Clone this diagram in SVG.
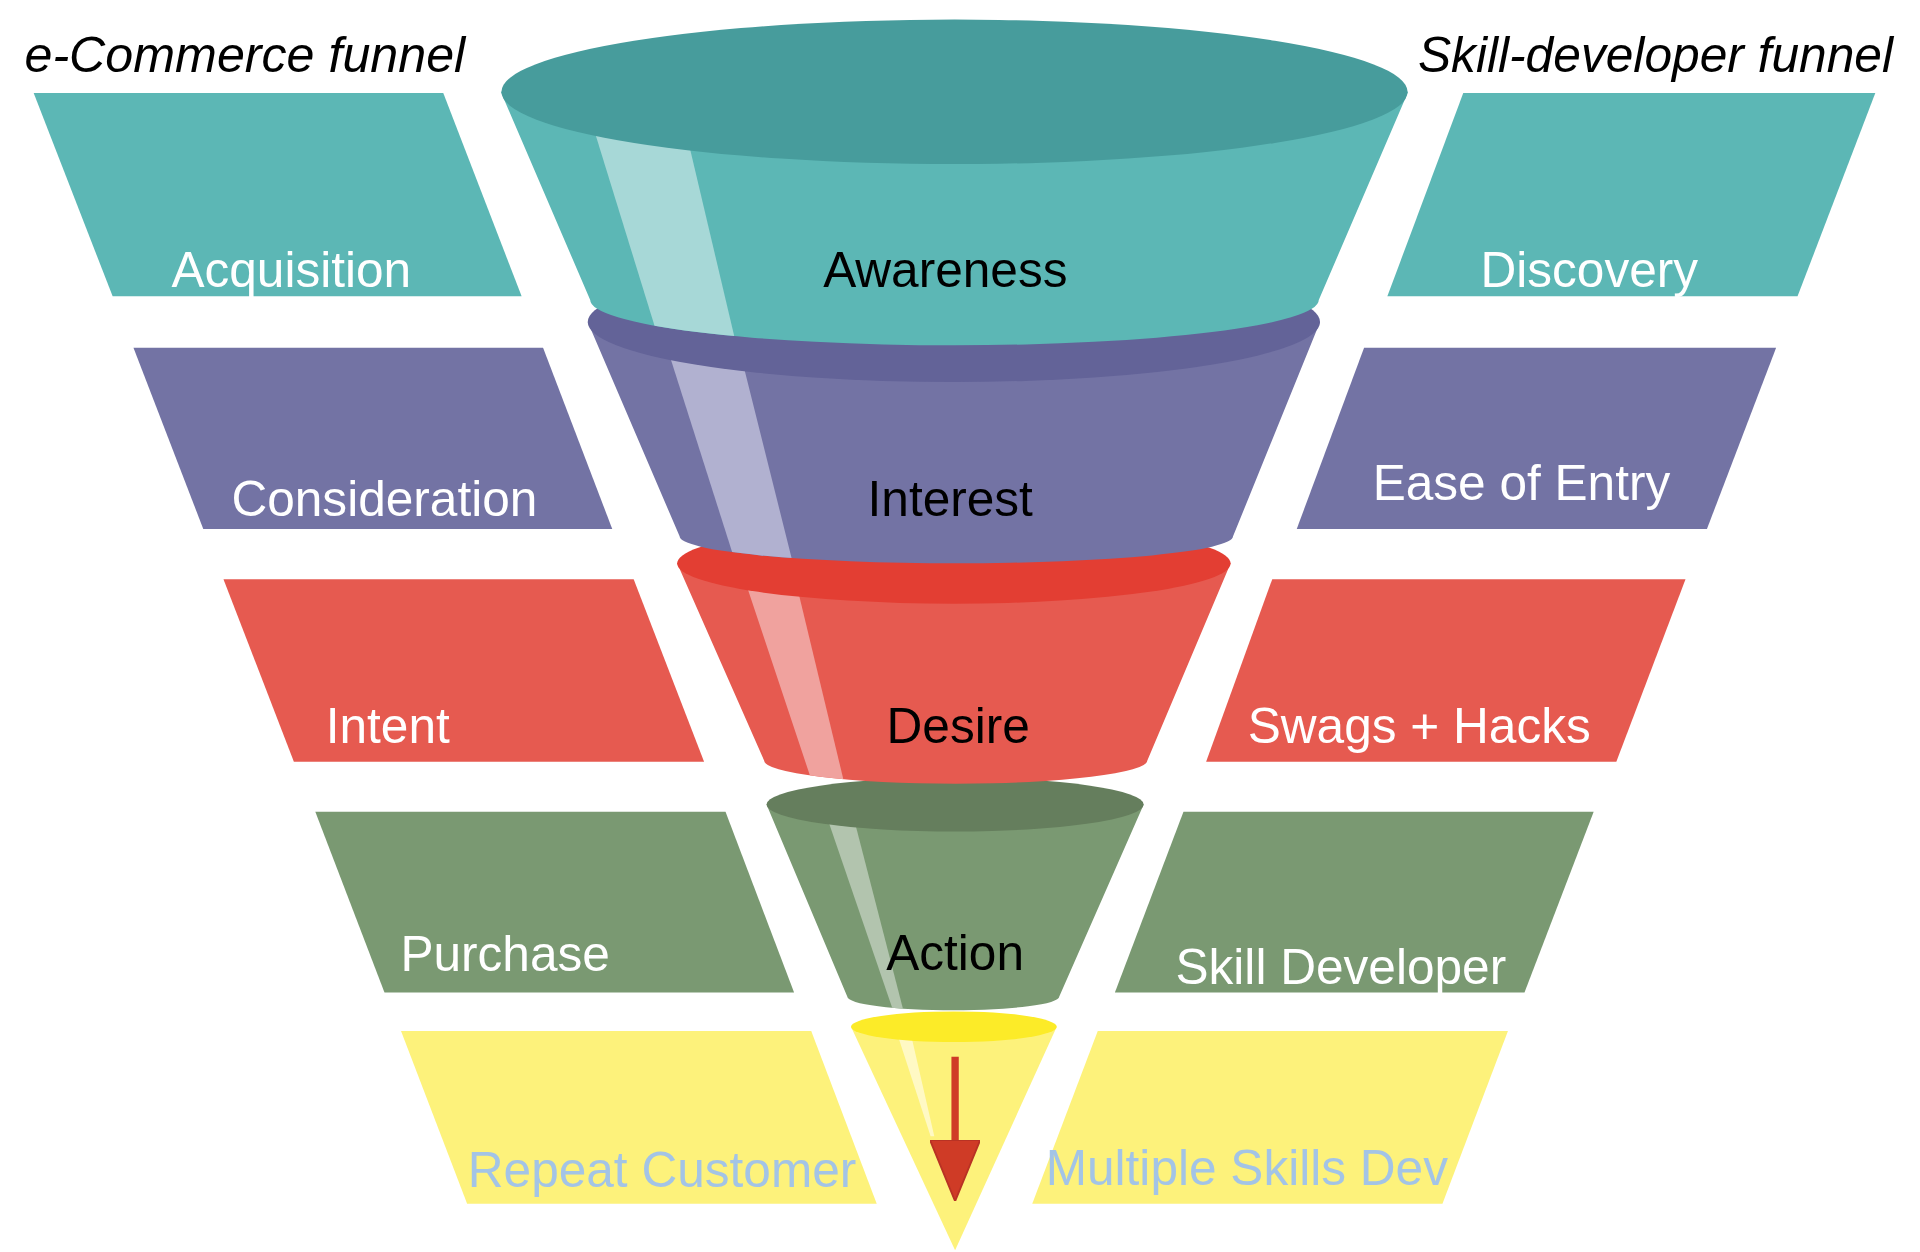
<svg xmlns="http://www.w3.org/2000/svg" width="1920" height="1252" viewBox="0 0 1920 1252">
<defs>
<style>
.lbl{font-family:"Liberation Sans",Arial,sans-serif;font-size:40.5px;fill:#ffffff}
.blue{fill:#A3C4E6}
.ctr{font-family:"Liberation Sans",Arial,sans-serif;font-size:40.5px;fill:#000000;text-anchor:middle}
.ttl{font-family:"Liberation Sans",Arial,sans-serif;font-size:41px;font-style:italic;fill:#000000}
.teal{fill:#5CB7B5}.tealRim{fill:#479C9C}.tealHi{fill:#A7D8D7}
.purp{fill:#7373A4}.purpRim{fill:#636398}.purpHi{fill:#B1B1D0}
.red{fill:#E65A50}.redRim{fill:#E33E33}.redHi{fill:#F0A29E}
.grn{fill:#7A9972}.grnRim{fill:#657E5D}.grnHi{fill:#B2C4AE}
.yel{fill:#FDF27B}.yelRim{fill:#FCEB28}.yelHi{fill:#FFF9C4}
</style>
<clipPath id="cAw"><path d="M409,75 L482,245 A297.5,37 0 0 0 1077,245 L1150,75 Z"/></clipPath>
<clipPath id="cIn"><path d="M480,263 L555,438 A226,22 0 0 0 1007,438 L1078,263 Z"/></clipPath>
<clipPath id="cDe"><path d="M553,460 L624,621 A156.5,19 0 0 0 937,621 L1005,460 Z"/></clipPath>
<clipPath id="cAc"><path d="M626,657 L692,814 A86.5,11 0 0 0 865,814 L934,657 Z"/></clipPath>
<clipPath id="cYe"><path d="M695,838.5 L780,1021 L863,838.5 Z"/></clipPath>
<marker id="ah" viewBox="0 0 50 41" refX="0" refY="20.5" markerWidth="50" markerHeight="41" markerUnits="userSpaceOnUse" orient="auto">
<path d="M0,0 L50,20.5 L0,41 Z" fill="#CF3B26" stroke="#B83224" stroke-width="1.5"/>
</marker>
</defs>
<rect width="1920" height="1252" fill="#ffffff"/>
<g transform="scale(1.22449)">
<g id="titles">
<text class="ttl" x="20" y="59">e-Commerce funnel</text>
<text class="ttl" x="1158" y="59" textLength="388" lengthAdjust="spacingAndGlyphs">Skill-developer funnel</text>
</g>
<g id="left-stages">
<g id="acquisition"><polygon class="teal" points="27.5,76 362,76 426,242 92,242"/><text class="lbl" x="140" y="234">Acquisition</text></g>
<g id="consideration"><polygon class="purp" points="109,284 443.5,284 500,432 166,432"/><text class="lbl" x="189" y="421">Consideration</text></g>
<g id="intent"><polygon class="red" points="182.5,473 517.5,473 575,622 240,622"/><text class="lbl" x="266" y="607">Intent</text></g>
<g id="purchase"><polygon class="grn" points="257.5,663 592.5,663 648.5,810.5 314,810.5"/><text class="lbl" x="327" y="793">Purchase</text></g>
<g id="repeat-customer"><polygon class="yel" points="327.5,842 662.5,842 716,983 381.5,983"/><text class="lbl blue" x="382" y="969">Repeat Customer</text></g>
</g>
<g id="right-stages">
<g id="discovery"><polygon class="teal" points="1195,76 1531.5,76 1468,242 1133,242"/><text class="lbl" x="1209" y="234">Discovery</text></g>
<g id="ease-of-entry"><polygon class="purp" points="1114,284 1450.5,284 1394,432 1059,432"/><text class="lbl" x="1121" y="408">Ease of Entry</text></g>
<g id="swags-hacks"><polygon class="red" points="1039,473 1376.5,473 1320,622 985,622"/><text class="lbl" x="1019" y="607">Swags + Hacks</text></g>
<g id="skill-developer"><polygon class="grn" points="966.5,663 1301.5,663 1245,810.5 910.5,810.5"/><text class="lbl" x="960" y="804">Skill Developer</text></g>
<g id="multiple-skills"><polygon class="yel" points="896.5,842 1231.5,842 1178,983 843,983"/><text class="lbl blue" x="854" y="968">Multiple Skills Dev</text></g>
</g>
<g id="funnel">
<g id="funnel-bottom">
<path class="yel" d="M695,838.5 L780,1021 L863,838.5 Z"/>
<polygon class="yelHi" clip-path="url(#cYe)" points="733,845 744,845 763,928 760,928"/>
<ellipse class="yelRim" cx="779" cy="838.5" rx="84" ry="12.5"/>
</g>
<g id="action">
<path class="grn" d="M626,657 L692,814 A86.5,11 0 0 0 865,814 L934,657 Z"/>
<polygon class="grnHi" clip-path="url(#cAc)" points="666,640 690,640 739,830 731,830"/>
<ellipse class="grnRim" cx="780" cy="657" rx="154" ry="22"/>
<text class="ctr" x="780" y="792">Action</text>
</g>
<g id="desire">
<path class="red" d="M553,460 L624,621 A156.5,19 0 0 0 937,621 L1005,460 Z"/>
<polygon class="redHi" clip-path="url(#cDe)" points="597,440 641.5,440 692,650 667,650"/>
<ellipse class="redRim" cx="779" cy="460" rx="226" ry="33"/>
<text class="ctr" x="782.5" y="607">Desire</text>
</g>
<g id="interest">
<path class="purp" d="M480,263 L555,438 A226,22 0 0 0 1007,438 L1078,263 Z"/>
<polygon class="purpHi" clip-path="url(#cIn)" points="534,250 595,250 650,470 604,470"/>
<ellipse class="purpRim" cx="779" cy="263" rx="299" ry="49"/>
<text class="ctr" x="776" y="421">Interest</text>
</g>
<g id="awareness">
<path class="teal" d="M409,75 L482,245 A297.5,37 0 0 0 1077,245 L1150,75 Z"/>
<polygon class="tealHi" clip-path="url(#cAw)" points="470,57 549,60 608,310 545,300"/>
<ellipse class="tealRim" cx="779.5" cy="75" rx="370" ry="59"/>
<text class="ctr" x="772" y="234">Awareness</text>
</g>
</g>
<g id="connectors">
<line x1="780" y1="863" x2="780" y2="931" stroke="#CF3B26" stroke-width="6" marker-end="url(#ah)"/>
</g>
</g>
</svg>
